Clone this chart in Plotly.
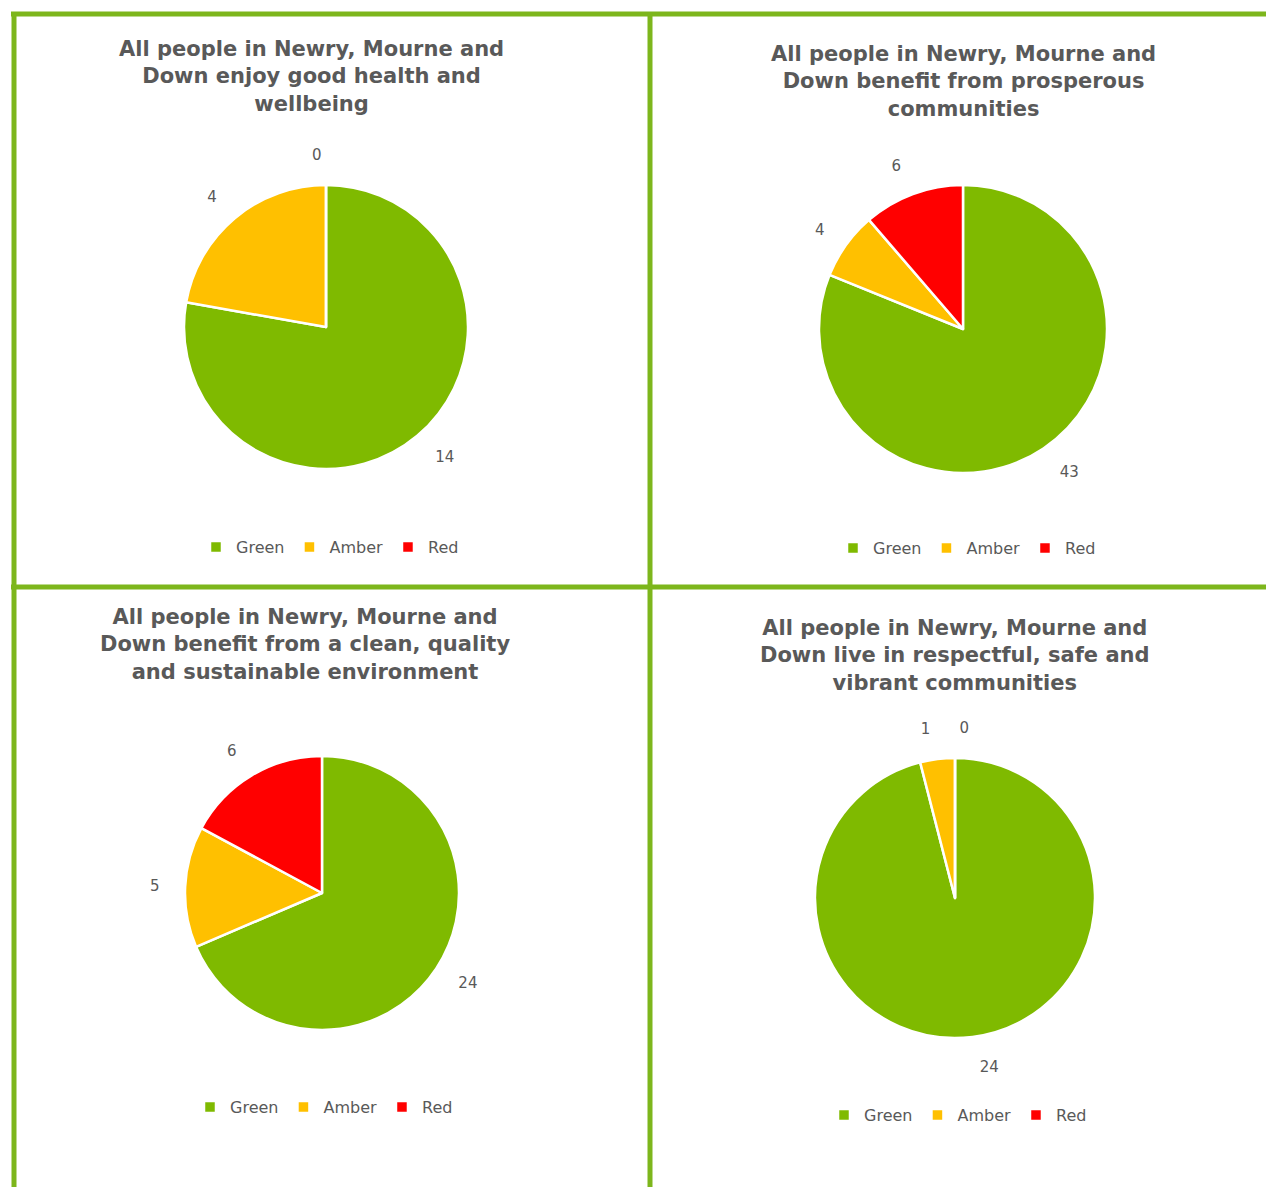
import plotly.graph_objects as go

# Outcome status counts for each community plan outcome
status = ["Green", "Amber", "Red"]
colors = ["#7FBA00", "#FFC000", "#FF0000"]

titles = [
    "All people in Newry, Mourne and<br>Down enjoy good health and<br>wellbeing",
    "All people in Newry, Mourne and<br>Down benefit from prosperous<br>communities",
    "All people in Newry, Mourne and<br>Down benefit from a clean, quality<br>and sustainable environment",
    "All people in Newry, Mourne and<br>Down live in respectful, safe and<br>vibrant communities",
]
health_values = [14, 4, 0]
prosperity_values = [43, 4, 6]
environment_values = [24, 5, 6]
community_values = [24, 1, 0]
all_values = [health_values, prosperity_values, environment_values, community_values]

W, H = 1266, 1187

# Panel geometry in pixels: pie centre, radius, title centre/top, legend centre/y
panels = [
    dict(cx=326, cy=327, r=142, tx=311, ty=35, lx=330, ly=547),
    dict(cx=963, cy=329, r=144, tx=963, ty=40, lx=967, ly=548),
    dict(cx=322, cy=893, r=137, tx=305, ty=603, lx=324, ly=1107),
    dict(cx=955, cy=898, r=140, tx=955, ty=614, lx=958, ly=1115),
]
LABEL_OFFSET = 21  # extra radius of the ring that carries the value labels

GREY = "#595959"
BORDER = "#7DB61C"


def pie_domain(cx, cy, r):
    return dict(
        x=[(cx - r) / W, (cx + r) / W],
        y=[1 - (cy + r) / H, 1 - (cy - r) / H],
    )


fig = go.Figure()
layout_extra = {}
annotations = []
for i, (p, vals, title) in enumerate(zip(panels, all_values, titles)):
    leg = "legend" if i == 0 else f"legend{i + 1}"
    # zero-width suffix keeps each panel's legend entries separate
    labels = [s + "\u200b" * i for s in status]

    # transparent ring, slightly larger, used only to place the value labels
    fig.add_trace(go.Pie(
        labels=labels,
        values=vals,
        sort=False,
        direction="clockwise",
        rotation=0,
        marker=dict(colors=["rgba(0,0,0,0)"] * 3, line=dict(width=0)),
        textinfo="value",
        textposition="outside",
        textfont=dict(family="DejaVu Sans", size=15, color=GREY),
        domain=pie_domain(p["cx"], p["cy"], p["r"] + LABEL_OFFSET),
        showlegend=False,
        hoverinfo="skip",
        legend=leg,
    ))
    fig.add_trace(go.Pie(
        labels=labels,
        values=vals,
        sort=False,
        direction="clockwise",
        rotation=0,
        marker=dict(colors=colors, line=dict(color="white", width=2.5)),
        textinfo="none",
        domain=pie_domain(p["cx"], p["cy"], p["r"]),
        legend=leg,
        hoverinfo="label+value",
    ))
    layout_extra[leg] = dict(
        orientation="h",
        x=p["lx"] / W,
        xanchor="center",
        y=1 - p["ly"] / H,
        yanchor="middle",
        font=dict(family="DejaVu Sans", size=16, color=GREY),
        itemwidth=30,
        bgcolor="rgba(0,0,0,0)",
    )
    annotations.append(dict(
        text=title,
        x=p["tx"] / W,
        y=1 - p["ty"] / H,
        xref="paper", yref="paper",
        xanchor="center", yanchor="top",
        showarrow=False,
        font=dict(family="DejaVu Sans", size=21, color=GREY, weight="bold"),
        align="center",
    ))

# Green frame dividing the four panels
shapes = [
    dict(type="line", x0=11, x1=W, y0=14, y1=14),
    dict(type="line", x0=14, x1=14, y0=12, y1=H),
    dict(type="line", x0=650, x1=650, y0=12, y1=H),
    dict(type="line", x0=11, x1=W, y0=587, y1=587),
]
for s in shapes:
    s.update(xref="paper", yref="paper", line=dict(color=BORDER, width=5))
    s["x0"] /= W
    s["x1"] /= W
    s["y0"] = 1 - s["y0"] / H
    s["y1"] = 1 - s["y1"] / H

fig.update_layout(
    width=W, height=H,
    margin=dict(l=0, r=0, t=0, b=0),
    paper_bgcolor="white",
    plot_bgcolor="white",
    annotations=annotations,
    shapes=shapes,
    **layout_extra,
)

fig.write_html("out.html")
